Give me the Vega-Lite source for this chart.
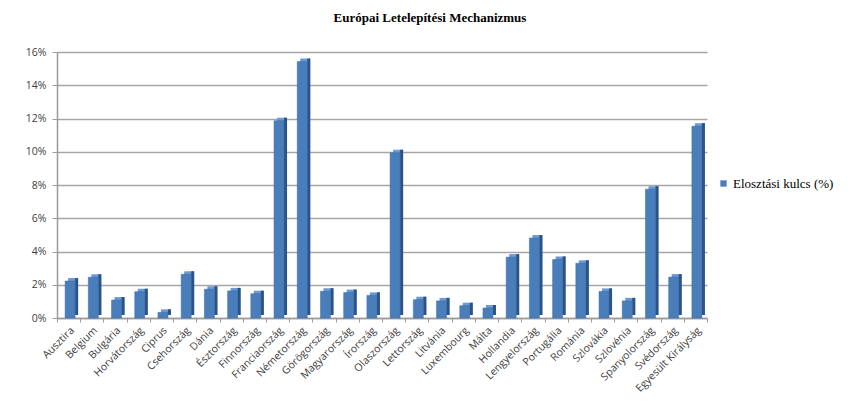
{
  "$schema": "https://vega.github.io/schema/vega-lite/v6.json",
  "width": 650,
  "height": 266,
  "autosize": {"type": "none"},
  "padding": {"left": 57, "top": 52, "right": 146, "bottom": 83},
  "background": "white",
  "title": {
    "text": "Európai Letelepítési Mechanizmus",
    "font": "Liberation Serif",
    "fontSize": 13,
    "fontWeight": "bold",
    "color": "#000000",
    "anchor": "middle",
    "dx": 48,
    "offset": 22
  },
  "data": {
    "values": [
      {"orszag": "Ausztira", "kulcs": 2.22},
      {"orszag": "Belgium", "kulcs": 2.45},
      {"orszag": "Bulgária", "kulcs": 1.08},
      {"orszag": "Horvátország", "kulcs": 1.58},
      {"orszag": "Ciprus", "kulcs": 0.34},
      {"orszag": "Csehország", "kulcs": 2.63},
      {"orszag": "Dánia", "kulcs": 1.73},
      {"orszag": "Észtország", "kulcs": 1.63},
      {"orszag": "Finnország", "kulcs": 1.46},
      {"orszag": "Franciaország", "kulcs": 11.87},
      {"orszag": "Németország", "kulcs": 15.43},
      {"orszag": "Görögország", "kulcs": 1.61},
      {"orszag": "Magyarország", "kulcs": 1.53},
      {"orszag": "Írország", "kulcs": 1.36},
      {"orszag": "Olaszország", "kulcs": 9.94},
      {"orszag": "Lettország", "kulcs": 1.10},
      {"orszag": "Litvánia", "kulcs": 1.03},
      {"orszag": "Luxembourg", "kulcs": 0.74},
      {"orszag": "Málta", "kulcs": 0.60},
      {"orszag": "Hollandia", "kulcs": 3.66},
      {"orszag": "Lengyelország", "kulcs": 4.81},
      {"orszag": "Portugália", "kulcs": 3.52},
      {"orszag": "Románia", "kulcs": 3.29},
      {"orszag": "Szlovákia", "kulcs": 1.60},
      {"orszag": "Szlovénia", "kulcs": 1.03},
      {"orszag": "Spanyolország", "kulcs": 7.75},
      {"orszag": "Svédország", "kulcs": 2.46},
      {"orszag": "Egyesült Királyság", "kulcs": 11.54}
    ]
  },
  "encoding": {
    "x": {
      "field": "orszag",
      "type": "nominal",
      "sort": null,
      "scale": {"paddingInner": 0, "paddingOuter": 0},
      "axis": {
        "title": null,
        "labelAngle": -45,
        "labelFont": "Open Sans",
        "labelFontSize": 10.5,
        "labelColor": "#404040",
        "labelPadding": 3,
        "tickBand": "extent",
        "tickColor": "#9a9a9a",
        "tickSize": 4,
        "domainColor": "#9a9a9a",
        "domainWidth": 1.5,
        "grid": false,
        "labelOverlap": false
      }
    },
    "y": {
      "field": "kulcs",
      "type": "quantitative",
      "scale": {"domain": [0, 16], "nice": false},
      "axis": {
        "title": null,
        "values": [0, 2, 4, 6, 8, 10, 12, 14, 16],
        "labelExpr": "datum.value + '%'",
        "labelFont": "Open Sans",
        "labelFontSize": 10.5,
        "labelColor": "#404040",
        "labelPadding": 6,
        "tickColor": "#9a9a9a",
        "tickSize": 5,
        "domainColor": "#9a9a9a",
        "domainWidth": 1.5,
        "grid": true,
        "gridColor": "#a6a6a6",
        "gridWidth": 1.5
      }
    }
  },
  "layer": [
    {
      "description": "top face of each column",
      "mark": {"type": "bar", "size": 10, "xOffset": 4.5, "yOffset": -3, "color": "#6b9ad4"}
    },
    {
      "description": "shaded right side of each column",
      "mark": {"type": "bar", "size": 3, "xOffset": 8, "yOffset": -3, "color": "#2c5385"}
    },
    {
      "description": "front face of each column",
      "mark": {"type": "bar", "size": 10, "xOffset": 1.5, "stroke": "#3d6aa3", "strokeWidth": 0.5},
      "encoding": {
        "color": {
          "datum": "Elosztási kulcs (%)",
          "type": "nominal",
          "scale": {"range": ["#4a7ebb"]},
          "legend": {
            "title": null,
            "orient": "none",
            "legendX": 660,
            "legendY": 125,
            "symbolType": "square",
            "symbolSize": 40,
            "symbolStrokeWidth": 0,
            "labelOffset": 3,
            "labelFont": "Liberation Serif, Times New Roman, serif",
            "labelFontSize": 13,
            "labelColor": "#000000"
          }
        }
      }
    }
  ],
  "config": {
    "view": {"stroke": null},
    "legend": {
      "labelFont": "Liberation Serif, Times New Roman, serif",
      "labelFontSize": 13,
      "labelColor": "#000000"
    }
  }
}
